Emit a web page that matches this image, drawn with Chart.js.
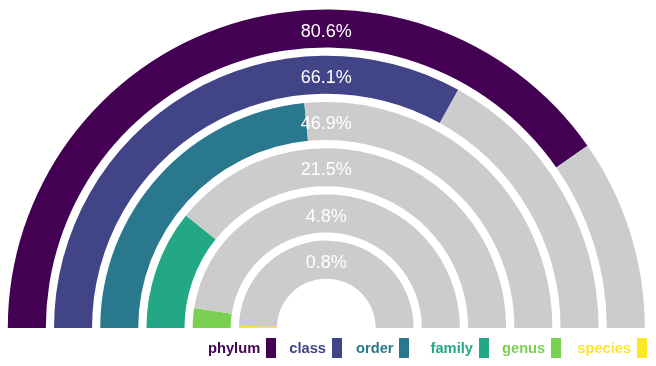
<!DOCTYPE html>
<html>
<head>
<meta charset="utf-8">
<script src="https://cdn.jsdelivr.net/npm/chart.js@4.4.1/dist/chart.umd.min.js"></script>
<style>
  body { margin: 0; background: #fff; }
  #wrap { position: relative; width: 656px; height: 366px; }
  #legend {
    position: absolute; left: 208px; top: 338px; height: 20px;
    display: flex; align-items: center;
    font: bold 14.7px "Liberation Sans", Arial, sans-serif;
  }
  #legend .item { display: flex; align-items: center; }
  #legend .box { width: 10px; height: 20px; margin-left: 5.5px; }
</style>
</head>
<body>
<div id="wrap">
  <canvas id="myChart" width="656" height="366"></canvas>
  <div id="legend"></div>
</div>
<script>
const ranks = ['phylum', 'class', 'order', 'family', 'genus', 'species'];
const percents = [80.6, 66.1, 46.9, 21.5, 4.8, 0.8];
const colours = ['#440154', '#414487', '#2a788e', '#22a884', '#7ad151', '#fde725'];
const restColour = '#cccccc';
const legendGaps = [0, 13.5, 14.5, 21.5, 13.5, 16.5];

// rings, with thin transparent rings in between to make the white gaps
const datasets = [];
ranks.forEach((rank, i) => {
  if (i > 0) {
    datasets.push({
      label: 'gap',
      data: [1],
      backgroundColor: ['rgba(0,0,0,0)'],
      weight: 0.216
    });
  }
  datasets.push({
    label: rank,
    data: [percents[i], 100 - percents[i]],
    backgroundColor: [colours[i], restColour],
    weight: 1
  });
});

const ringLabels = {
  id: 'ringLabels',
  afterDatasetsDraw(chart) {
    const ctx = chart.ctx;
    ctx.save();
    ctx.fillStyle = '#ffffff';
    ctx.font = '18px "Liberation Sans", Arial, sans-serif';
    ctx.textAlign = 'center';
    ctx.textBaseline = 'middle';
    chart.data.datasets.forEach((ds, i) => {
      if (ds.label === 'gap') return;
      const arc = chart.getDatasetMeta(i).data[0];
      const r = (arc.innerRadius + arc.outerRadius) / 2;
      ctx.fillText(ds.data[0].toFixed(1) + '%', arc.x, arc.y - r + 3.3);
    });
    ctx.restore();
  }
};

const config = {
  type: 'doughnut',
  data: {
    labels: ['value', 'rest'],
    datasets: datasets
  },
  options: {
    responsive: false,
    animation: false,
    events: [],
    rotation: -90,
    circumference: 180,
    cutout: '15.5%',
    borderWidth: 0,
    hoverOffset: 0,
    offset: 0,
    layout: {
      padding: { top: 9.5, bottom: 38, left: 7.8, right: 11.2 }
    },
    plugins: {
      legend: { display: false },
      tooltip: { enabled: false }
    }
  },
  plugins: [ringLabels]
};

const myChart = new Chart(document.getElementById('myChart'), config);

// legend: coloured text with the key box on its right
const legend = document.getElementById('legend');
ranks.forEach((rank, i) => {
  const item = document.createElement('div');
  item.className = 'item';
  item.style.marginLeft = legendGaps[i] + 'px';
  item.style.color = colours[i];
  const txt = document.createElement('span');
  txt.textContent = rank;
  const box = document.createElement('span');
  box.className = 'box';
  box.style.background = colours[i];
  item.appendChild(txt);
  item.appendChild(box);
  legend.appendChild(item);
});
</script>
</body>
</html>
